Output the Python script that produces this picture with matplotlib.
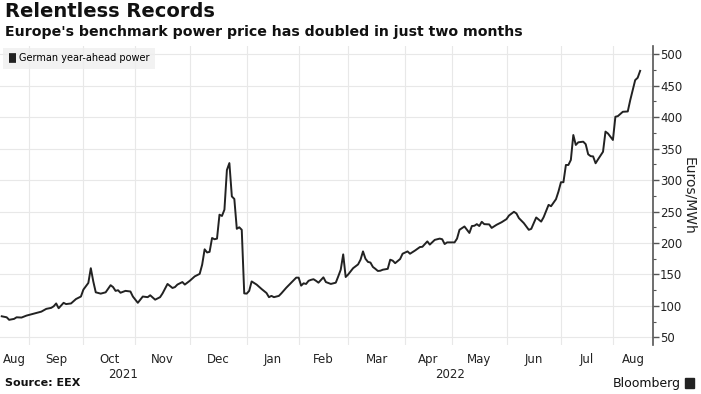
import numpy as np
import pandas as pd
import matplotlib
matplotlib.use("Agg")
import matplotlib.pyplot as plt
from matplotlib.ticker import MultipleLocator
from matplotlib.transforms import blended_transform_factory

# German year-ahead power, EUR/MWh
dates = [
    "2021-08-17", "2021-08-19", "2021-08-20", "2021-08-24", "2021-08-25", "2021-08-27", "2021-08-31",
    "2021-09-02", "2021-09-06", "2021-09-08", "2021-09-10", "2021-09-14", "2021-09-15", "2021-09-16",
    "2021-09-17", "2021-09-21", "2021-09-22", "2021-09-24", "2021-09-28", "2021-09-30",
    "2021-10-01", "2021-10-05", "2021-10-06", "2021-10-07", "2021-10-08", "2021-10-12", "2021-10-14",
    "2021-10-18", "2021-10-19", "2021-10-20", "2021-10-21", "2021-10-22", "2021-10-26", "2021-10-28",
    "2021-10-29",
    "2021-11-02", "2021-11-04", "2021-11-08", "2021-11-09", "2021-11-11", "2021-11-15", "2021-11-16",
    "2021-11-18", "2021-11-22", "2021-11-23", "2021-11-24", "2021-11-26", "2021-11-29",
    "2021-12-01", "2021-12-03", "2021-12-07", "2021-12-08", "2021-12-09", "2021-12-10", "2021-12-13",
    "2021-12-14", "2021-12-15", "2021-12-16", "2021-12-17", "2021-12-20", "2021-12-21", "2021-12-22",
    "2021-12-23", "2021-12-24", "2021-12-27", "2021-12-28", "2021-12-29", "2021-12-30", "2021-12-31",
    "2022-01-03", "2022-01-04", "2022-01-05", "2022-01-07", "2022-01-11", "2022-01-13", "2022-01-14",
    "2022-01-17", "2022-01-18", "2022-01-20", "2022-01-21", "2022-01-25", "2022-01-27", "2022-01-31",
    "2022-02-01", "2022-02-02", "2022-02-03", "2022-02-04", "2022-02-07", "2022-02-08", "2022-02-09",
    "2022-02-10", "2022-02-11", "2022-02-15", "2022-02-16", "2022-02-18", "2022-02-22", "2022-02-23",
    "2022-02-24", "2022-02-25", "2022-02-28",
    "2022-03-01", "2022-03-03", "2022-03-07", "2022-03-08", "2022-03-09", "2022-03-10", "2022-03-11",
    "2022-03-14", "2022-03-15", "2022-03-16", "2022-03-17", "2022-03-18", "2022-03-21", "2022-03-23",
    "2022-03-24", "2022-03-25", "2022-03-28", "2022-03-30", "2022-03-31",
    "2022-04-04", "2022-04-05", "2022-04-07", "2022-04-11", "2022-04-12", "2022-04-14", "2022-04-19",
    "2022-04-21", "2022-04-25", "2022-04-26", "2022-04-27", "2022-04-28",
    "2022-05-03", "2022-05-04", "2022-05-05", "2022-05-09", "2022-05-11", "2022-05-12", "2022-05-13",
    "2022-05-16", "2022-05-17", "2022-05-18", "2022-05-19", "2022-05-23", "2022-05-24", "2022-05-26",
    "2022-05-30",
    "2022-06-01", "2022-06-02", "2022-06-06", "2022-06-07", "2022-06-08", "2022-06-10", "2022-06-14",
    "2022-06-15", "2022-06-17", "2022-06-21", "2022-06-22", "2022-06-24", "2022-06-27", "2022-06-29",
    "2022-06-30",
    "2022-07-01", "2022-07-04", "2022-07-05", "2022-07-06", "2022-07-07", "2022-07-08", "2022-07-11",
    "2022-07-12", "2022-07-14", "2022-07-15", "2022-07-18", "2022-07-19", "2022-07-20", "2022-07-21",
    "2022-07-22", "2022-07-26", "2022-07-27", "2022-07-28",
    "2022-08-01", "2022-08-02", "2022-08-03", "2022-08-05", "2022-08-09", "2022-08-10", "2022-08-12",
    "2022-08-15", "2022-08-16",
]
price = [
    83.6, 82, 78, 79.5, 82, 81.6, 84.7,
    86.8, 89, 91, 95.4, 97, 99.5, 104,
    96.4, 105, 103, 104, 111, 115,
    126, 136.6, 160, 139, 121.7, 119.6, 121.7,
    133, 130, 124, 125, 121, 124, 123,
    115,
    105, 115, 114, 117, 110, 114, 120,
    135, 128.6, 130, 134, 138, 134,
    140, 147, 151, 165.6, 190, 185, 186,
    208, 206, 207, 245, 243, 253, 316,
    327, 274, 270, 222.6, 225, 221, 120,
    119.6, 124, 139, 134, 127, 120.6, 114,
    116, 114, 116, 120, 129, 137, 145,
    145, 132.3, 136, 135, 140, 141.5, 142.5,
    140, 137, 145.5, 138, 135, 137, 147,
    157.6, 182, 146,
    150, 160, 166, 173.5, 186.7, 175, 170,
    169, 162, 159, 155.6, 156, 157.6, 159,
    173.5, 172, 168, 174.6, 183,
    186.7, 183, 188, 193.6, 194, 202.6, 197.5,
    205, 207, 206, 198.4, 201,
    201, 207, 221, 226.3, 216, 227, 227.4,
    230, 227, 233.7, 230, 229.6, 224, 229,
    233,
    238, 243.7, 249.6, 247, 239.6, 231.6, 221,
    222.5, 240.6, 234, 241, 260.6, 258.5, 269.7,
    281.8,
    296.6, 296.6, 324, 324, 332, 371.6, 355.8,
    360, 361, 357, 341, 338, 337.6, 326.7,
    333, 345, 377, 374,
    363.7, 400.6, 401.6, 408.5, 409, 427, 458.8,
    462.5, 473.5,
]
holidays = ["2022-04-15", "2022-04-18"]
month_names = ["Aug", "Sep", "Oct", "Nov", "Dec", "Jan", "Feb", "Mar", "Apr", "May", "Jun", "Jul", "Aug"]
years = ["2021", "2022"]

LINE = "#222222"; GRID = "#e8e8e8"; AXC = "#555555"; TXT = "#222222"

# Bloomberg plots on a trading-day axis
start = np.datetime64(dates[0])
x = np.busday_count(start, np.array(dates, dtype="datetime64[D]"), holidays=holidays)
month_starts = pd.date_range("2021-09-01", "2022-08-01", freq="MS").values.astype("datetime64[D]")
mx = np.busday_count(start, np.busday_offset(month_starts, 0, roll="forward", holidays=holidays),
                     holidays=holidays)
x0, x1 = -0.7, 263.2

fig = plt.figure(figsize=(7.01, 3.94), dpi=100)
ax = fig.add_axes([0.0, 49 / 394, 653 / 701, 299 / 394])
ax.plot(x, price, color=LINE, lw=1.4, label="German year-ahead power", zorder=3)
ax.set_xlim(x0, x1)
ax.set_ylim(38, 513)

for m in mx:
    ax.axvline(m, color=GRID, lw=0.8, zorder=0)
ax.yaxis.set_major_locator(MultipleLocator(50))
ax.yaxis.set_minor_locator(MultipleLocator(25))
ax.grid(axis="y", which="major", color=GRID, lw=0.8, zorder=0)
ax.set_axisbelow(True)

for s in ["top", "left", "bottom"]:
    ax.spines[s].set_visible(False)
ax.spines["right"].set_color(AXC)
ax.spines["right"].set_linewidth(1.2)
ax.yaxis.tick_right()
ax.yaxis.set_label_position("right")
ax.tick_params(axis="y", which="major", direction="out", length=4, width=1, color=AXC,
               labelsize=8.5, labelcolor=TXT, pad=1)
ax.tick_params(axis="y", which="minor", direction="out", length=2.5, width=0.8, color=AXC)
ax.tick_params(axis="x", bottom=False, labelbottom=False)
ax.set_ylabel("Euros/MWh", rotation=-90, fontsize=10, color=TXT, labelpad=10)

# month and year labels centred on their spans
edges = np.concatenate([[x0], mx, [x1]])
tr = blended_transform_factory(ax.transData, ax.transAxes)
for i, name in enumerate(month_names):
    ax.text((edges[i] + edges[i + 1]) / 2, -0.028, name, transform=tr, ha="center", va="top",
            fontsize=8.5, color=TXT)
jan = mx[4]
for xc, yr in zip([(x0 + jan) / 2, (jan + x1) / 2], years):
    ax.text(xc, -0.078, yr, transform=tr, ha="center", va="top", fontsize=8.5, color=TXT)

leg = ax.legend(loc="upper left", bbox_to_anchor=(0.002, 1.0), fontsize=7, frameon=True,
                handlelength=0.75, handleheight=0.7, handletextpad=0.3, borderpad=0.55,
                borderaxespad=0.2, fancybox=False)
leg.get_frame().set_facecolor("#efefef")
leg.get_frame().set_edgecolor("none")
for h in leg.legend_handles:
    h.set_linewidth(7)
    h.set_solid_capstyle("butt")

fig.text(5 / 701, 1 - 2 / 394, "Relentless Records", fontsize=14, fontweight="bold",
         ha="left", va="top", color="#111111")
fig.text(5 / 701, 1 - 25 / 394, "Europe's benchmark power price has doubled in just two months",
         fontsize=10.2, fontweight="bold", ha="left", va="top", color="#111111")
fig.text(5 / 701, 1 - 383 / 394, "Source: EEX", fontsize=8, fontweight="bold",
         ha="left", va="center", color="#111111")
fig.text(681 / 701, 1 - 383 / 394, "Bloomberg", fontsize=9, ha="right", va="center", color="#111111")
fig.patches.append(plt.Rectangle((685 / 701, 1 - 388 / 394), 9 / 701, 10 / 394,
                                 transform=fig.transFigure, color="#222222"))

fig.savefig("out.png", dpi=100)
